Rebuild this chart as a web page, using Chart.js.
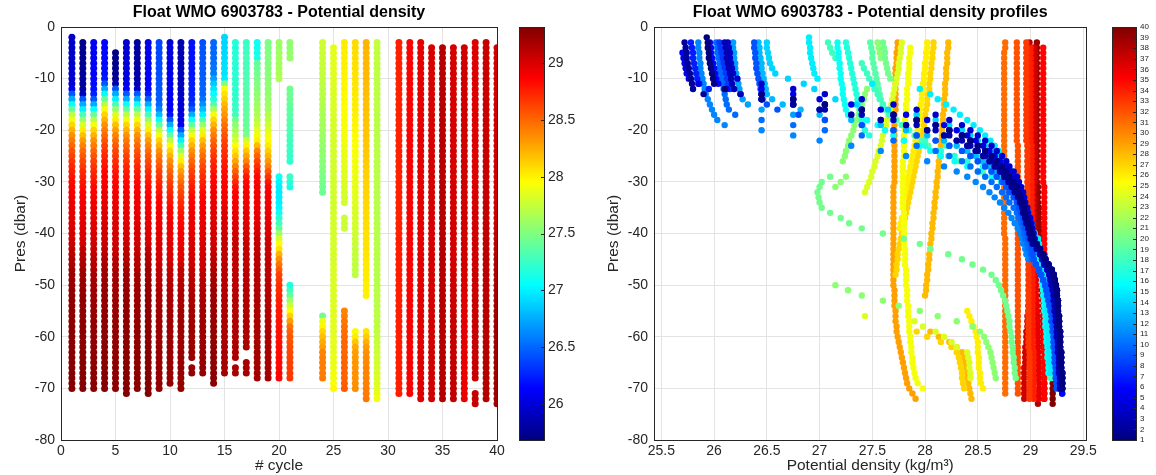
<!DOCTYPE html>
<html>
<head>
<meta charset="utf-8">
<title>Float WMO 6903783 - Potential density</title>
<script src="https://cdn.jsdelivr.net/npm/chart.js@4.4.0/dist/chart.umd.min.js"></script>
<style>
    html, body { margin: 0; padding: 0; background: #ffffff; }
    #wrap { position: relative; width: 1156px; height: 475px; overflow: hidden; background: #ffffff; }
    canvas { position: absolute; top: 0; }
</style>
</head>
<body>
<div id="wrap">
    <canvas id="density_canvas" width="510" height="475" style="left:0px"></canvas>
    <canvas id="density_cbar" width="75" height="475" style="left:505px"></canvas>
    <canvas id="profiles_canvas" width="520" height="475" style="left:580px"></canvas>
    <canvas id="profiles_cbar" width="56" height="475" style="left:1100px"></canvas>
</div>
<script>
/*--------------------------------------------------------------------------------
----- DATA (potential density per cycle, one value per dbar from the first level)
--------------------------------------------------------------------------------*/

var CYCLES = [1, 2, 3, 4, 5, 6, 7, 8, 9, 10, 11, 12, 13, 14, 15, 16, 17, 18, 19, 20, 21,
              24, 25, 26, 27, 28, 29, 31, 32, 33, 34, 35, 36, 37, 38, 39, 40];

// first measured level of each cycle (dbar)
var TOP_PRES = [2, 3, 3, 3, 5, 3, 3, 3, 3, 3, 3, 3, 3, 3, 2, 3, 3, 3, 3, 3, 3,
                3, 4, 3, 3, 3, 3, 3, 3, 3, 4, 4, 4, 4, 3, 3, 4];

var D01 = [25.93,25.94,25.94,25.95,25.95,25.96,25.97,25.98,25.99,26.0,26.1,26.45,26.75,
    27.05,27.4,27.7,27.92,28.1,28.23,28.35,28.43,28.5,28.57,28.63,28.68,28.73,28.77,28.8,28.84,28.87,28.89,28.91,28.93,28.94,28.95,28.97,28.98,29.0,29.01,29.02,
    29.06,29.09,29.12,29.14,29.17,29.2,29.22,29.23,29.24,29.25,29.25,29.26,29.26,29.26,29.27,29.27,29.27,29.28,29.28,29.28,29.28,29.29,29.29,29.29,29.29,29.3,29.3,29.3,29.3];
var D02 = [25.72,25.73,25.74,25.74,25.75,25.76,25.77,25.78,25.79,25.8,25.9,26.45,26.75,
    27.0,27.3,27.58,27.82,28.02,28.18,28.3,28.4,28.48,28.55,28.61,28.66,28.71,28.75,28.79,28.82,28.85,28.88,28.9,28.92,28.93,28.95,28.96,28.98,28.99,29.0,29.02,
    29.09,29.12,29.14,29.17,29.2,29.22,29.23,29.24,29.25,29.25,29.26,29.26,29.26,29.27,29.27,29.27,29.28,29.28,29.28,29.28,29.29,29.29,29.29,29.29,29.3,29.3,29.3,29.3];
var D03 = [26.1,26.11,26.12,26.12,26.13,26.14,26.15,26.16,26.17,26.19,26.25,26.45,26.75,
    27.05,27.4,27.7,27.92,28.1,28.23,28.35,28.43,28.5,28.57,28.63,28.68,28.73,28.77,28.8,28.84,28.87,28.89,28.91,28.93,28.94,28.95,28.97,28.98,29.0,29.01,
    29.04,29.06,29.09,29.11,29.13,29.16,29.18,29.19,29.2,29.21,29.22,29.22,29.23,29.23,29.24,29.24,29.25,29.25,29.25,29.26,29.26,29.26,29.27,29.27,29.27,29.27,29.28,29.28,29.28];
var D04 = [26.13,26.14,26.15,26.15,26.16,26.17,26.18,26.22,26.45,26.75,
    27.05,27.4,27.7,27.92,28.1,28.23,28.35,28.43,28.5,28.57,28.63,28.68,28.73,28.77,28.8,28.84,28.87,28.89,28.91,28.93,28.94,28.95,28.97,28.98,29.0,29.01,29.02,29.03,29.04,
    29.06,29.09,29.12,29.14,29.17,29.2,29.22,29.23,29.24,29.25,29.25,29.26,29.26,29.26,29.27,29.27,29.27,29.28,29.28,29.28,29.28,29.29,29.29,29.29,29.29,29.3,29.3,29.3,29.3];
var D05 = [25.7,25.71,25.72,25.73,25.74,25.76,25.85,26.45,26.75,
    27.0,27.3,27.58,27.82,28.02,28.18,28.3,28.4,28.48,28.55,28.61,28.66,28.71,28.75,28.79,28.82,28.85,28.88,28.9,28.92,28.93,28.95,28.96,28.98,28.99,29.0,29.02,29.03,
    29.04,29.06,29.09,29.11,29.13,29.16,29.18,29.19,29.2,29.21,29.22,29.22,29.23,29.23,29.24,29.24,29.25,29.25,29.25,29.26,29.26,29.26,29.27,29.27,29.27,29.27,29.28,29.28,29.28];
var D06 = [25.96,25.97,25.97,25.98,25.99,26.0,26.01,26.02,26.04,26.12,26.45,26.75,
    27.05,27.4,27.7,27.92,28.1,28.23,28.35,28.43,28.5,28.57,28.63,28.68,28.73,28.77,28.8,28.84,28.87,28.89,28.91,28.93,28.94,28.95,28.97,28.98,29.0,29.01,29.02,
    29.06,29.09,29.12,29.14,29.17,29.2,29.22,29.23,29.24,29.25,29.25,29.26,29.26,29.26,29.27,29.27,29.27,29.28,29.28,29.28,29.28,29.29,29.29,29.29,29.29,29.3,29.3,29.3,29.3,29.3];
var D07 = [25.78,25.79,25.8,25.8,25.81,25.82,25.83,25.84,25.86,25.95,26.45,26.75,
    27.05,27.4,27.7,27.92,28.1,28.23,28.35,28.43,28.5,28.57,28.63,28.68,28.73,28.77,28.8,28.84,28.87,28.89,28.91,28.93,28.94,28.95,28.97,28.98,29.0,29.01,29.02,
    29.04,29.06,29.09,29.11,29.13,29.16,29.18,29.19,29.2,29.21,29.22,29.22,29.23,29.23,29.24,29.24,29.25,29.25,29.25,29.26,29.26,29.26,29.27,29.27,29.27,29.27,29.28,29.28,29.28];
var D08 = [26.05,26.06,26.07,26.08,26.09,26.1,26.11,26.12,26.13,26.15,26.25,26.45,26.75,
    27.0,27.3,27.58,27.82,28.02,28.18,28.3,28.4,28.48,28.55,28.61,28.66,28.71,28.75,28.79,28.82,28.85,28.88,28.9,28.92,28.93,28.95,28.96,28.98,28.99,29.0,29.02,
    29.09,29.12,29.14,29.17,29.2,29.22,29.23,29.24,29.25,29.25,29.26,29.26,29.26,29.27,29.27,29.27,29.28,29.28,29.28,29.28,29.29,29.29,29.29,29.29,29.3,29.3,29.3,29.3,29.3];
var D09 = [26.38,26.38,26.39,26.39,26.4,26.4,26.41,26.42,26.43,26.44,26.45,26.46,26.5,26.6,26.8,
    27.05,27.4,27.7,27.92,28.1,28.23,28.35,28.43,28.5,28.57,28.63,28.68,28.73,28.77,28.8,28.84,28.87,28.89,28.91,28.93,28.94,28.95,28.97,28.98,29.0,29.01,29.02,29.03,
    29.05,29.08,29.1,29.12,29.14,29.15,29.16,29.17,29.18,29.19,29.2,29.2,29.21,29.21,29.22,29.22,29.22,29.23,29.23,29.23,29.24,29.24,29.24,29.25,29.25];
var D10 = [26.02,26.03,26.03,26.04,26.05,26.05,26.06,26.07,26.08,26.09,26.1,26.11,26.12,26.14,26.2,26.45,26.75,
    27.05,27.4,27.7,27.92,28.1,28.23,28.35,28.43,28.5,28.57,28.63,28.68,28.73,28.77,28.8,28.84,28.87,28.89,28.91,28.93,28.94,28.95,28.97,28.98,29.0,29.01,
    29.05,29.08,29.1,29.12,29.14,29.15,29.16,29.17,29.18,29.19,29.2,29.2,29.21,29.21,29.22,29.22,29.22,29.23,29.23,29.23,29.24,29.24,29.24,29.25];
var D11 = [25.85,25.85,25.86,25.86,25.87,25.87,25.88,25.89,25.9,25.91,25.92,25.94,25.96,25.98,26.0,26.03,26.1,26.45,26.75,
    27.0,27.3,27.58,27.82,28.02,28.18,28.3,28.4,28.48,28.55,28.61,28.66,28.71,28.75,28.79,28.82,28.85,28.88,28.9,28.92,28.93,28.95,28.96,28.98,
    29.05,29.08,29.1,29.12,29.14,29.15,29.16,29.17,29.18,29.19,29.2,29.2,29.21,29.21,29.22,29.22,29.22,29.23,29.23,29.23,29.24,29.24,29.24,29.25,29.25];
var D12 = [26.18,26.18,26.19,26.19,26.2,26.2,26.21,26.22,26.23,26.24,26.25,26.27,26.32,26.45,26.75,
    27.05,27.4,27.7,27.92,28.1,28.23,28.35,28.43,28.5,28.57,28.63,28.68,28.73,28.77,28.8,28.84,28.87,28.89,28.91,28.93,28.94,28.95,28.97,28.98,29.0,29.01,29.02,29.03,
    29.05,29.08,29.1,29.12,29.14,29.15,29.16,29.17,29.18,29.19,29.2,29.2,29.21,29.21,29.22,29.22,29.22,29.23,29.23,null,29.24,29.24];
var D13 = [26.42,26.43,26.43,26.44,26.45,26.45,26.46,26.47,26.48,26.49,26.5,26.55,26.65,26.82,
    27.0,27.3,27.58,27.82,28.02,28.18,28.3,28.4,28.48,28.55,28.61,28.66,28.71,28.75,28.79,28.82,28.85,28.88,28.9,28.92,28.93,28.95,28.96,28.98,28.99,29.0,29.02,29.03,
    29.03,29.05,29.08,29.1,29.12,29.14,29.15,29.16,29.17,29.18,29.19,29.2,29.2,29.21,29.21,29.22,29.22,29.22,29.23,29.23,29.23,29.24,29.24];
var D14 = [26.5,26.5,26.51,26.52,26.53,26.55,26.58,
    26.7,26.85,26.95,27.05,27.15,27.35,27.65,27.92,28.1,28.23,28.35,28.43,28.5,28.57,28.63,28.68,28.73,28.77,28.8,28.84,28.87,28.89,28.91,28.93,28.94,28.95,28.97,28.98,29.0,29.01,29.02,29.03,
    29.04,29.06,29.09,29.11,29.13,29.16,29.18,29.19,29.2,29.21,29.22,29.22,29.23,29.23,29.24,29.24,29.25,29.25,29.25,29.26,29.26,29.26,29.27,29.27,29.27,29.27,29.28,29.28];
var D15 = [26.9,26.9,26.91,26.91,26.92,26.93,26.94,26.95,26.98,
    27.5,27.95,28.05,28.12,28.2,28.27,28.33,28.4,28.46,28.52,28.57,28.62,28.66,28.7,28.73,28.76,28.79,28.82,28.84,28.86,28.88,28.9,
    28.92,28.94,28.96,28.98,29.0,29.01,29.02,29.04,
    29.07,29.08,29.09,29.1,29.1,29.11,29.12,29.12,29.13,29.13,29.14,29.14,29.15,29.15,29.15,29.16,29.16,29.16,29.17,29.17,29.17,29.18,29.18,29.18,29.18,29.19,29.19];
var D16 = [27.17,27.17,27.18,27.18,27.19,27.19,27.2,27.2,27.21,27.22,27.22,27.23,27.24,27.25,27.27,
    27.45,27.55,27.62,27.7,27.8,
    27.95,28.05,28.15,28.28,28.4,28.52,28.63,28.72,28.8,
    28.85,28.88,28.9,28.92,28.94,28.96,28.98,29.0,29.02,
    29.05,29.06,29.07,29.08,29.08,29.09,29.1,29.1,29.11,29.11,29.12,29.12,29.13,29.13,29.13,29.14,29.14,29.14,29.15,29.15,29.15,29.16,29.16,29.16,null,29.17,29.17];
var D17 = [27.25,27.26,27.27,27.28,27.29,27.3,27.31,27.32,27.33,27.34,27.35,27.36,27.37,27.38,27.39,27.4,27.41,27.43,27.47,
    27.8,28.0,28.15,28.28,28.4,28.55,28.68,28.78,
    28.84,28.87,28.9,28.92,28.93,28.94,28.95,28.96,28.98,29.0,29.02,
    29.06,29.07,29.08,29.09,29.09,29.1,29.11,29.11,29.12,29.12,29.13,29.13,29.14,29.14,29.14,29.15,29.15,29.15,29.16,29.16,29.16,29.17,null,null,29.17,29.18,29.18];
var D18 = [27.08,27.1,27.12,27.15,
    27.4,27.42,27.45,27.47,27.5,27.52,27.55,27.57,27.6,27.63,27.66,27.7,
    27.78,27.85,27.92,28.0,28.2,28.4,28.52,28.62,28.7,28.78,28.84,
    28.87,28.89,28.9,28.91,28.92,28.93,28.94,28.95,28.97,29.0,29.02,
    29.07,29.08,29.09,29.1,29.1,29.11,29.12,29.12,29.13,29.13,29.14,29.14,29.15,29.15,29.15,29.16,29.16,29.16,29.17,29.17,29.17,29.18,29.18,29.18,29.18,29.19,29.19,29.2];
var D19 = [27.48,27.49,27.5,27.5,27.51,27.52,27.53,27.54,27.55,27.56,27.57,27.58,27.6,27.62,
    27.68,27.73,27.78,27.83,
    27.9,27.97,28.03,28.12,28.22,28.32,28.42,28.55,28.68,28.78,
    28.84,28.88,28.9,28.92,28.93,28.94,28.95,28.97,28.99,29.01,
    29.04,29.05,29.06,29.07,29.08,29.09,29.1,29.1,29.11,29.12,29.12,29.13,29.13,29.14,29.14,29.15,29.15,29.15,29.16,29.16,29.16,29.17,29.17,29.17,29.18,29.18,29.18,29.19];
var D20 = [27.6,27.61,27.62,27.62,27.63,27.64,27.65,27.67,
    null,null,null,null,null,null,null,null,null,null,null,null,null,null,null,null,null,null,
    27.1,27.02,27.0,26.98,26.99,27.0,27.02,27.1,27.2,27.28,27.4,27.6,27.8,27.95,28.05,28.22,28.35,28.45,28.55,28.63,
    28.67,28.7,28.72,28.74,28.76,28.77,28.78,28.79,28.8,28.8,28.81,28.82,28.82,28.83,28.83,28.84,28.84,28.85,28.85,28.86];
var D21 = [27.55,27.56,27.57,27.58,
    null,null,null,null,null,
    27.45,27.43,27.42,27.4,27.38,27.37,27.35,27.33,27.32,27.3,27.28,27.27,27.25,27.24,27.22,
    null,null,
    27.25,27.2,27.15,
    null,null,null,null,null,null,null,null,null,null,null,null,null,null,null,null,null,null,
    27.15,27.27,27.4,27.6,27.75,27.95,28.12,28.3,28.45,28.52,28.56,28.58,28.6,28.62,28.63,28.64,28.65,28.66,28.67];
var D24 = [27.78,27.77,27.77,27.76,27.75,27.75,27.74,27.73,27.72,27.71,27.7,27.69,27.68,27.67,27.65,
    27.64,27.63,27.62,27.6,27.59,27.58,27.56,27.55,27.53,27.52,27.5,27.49,27.47,27.45,27.43,
    null,null,null,null,null,null,null,null,null,null,null,null,null,null,null,null,null,null,null,null,null,null,null,
    27.43,27.9,27.98,28.1,28.18,28.25,28.3,28.4,28.41,28.42,28.42,28.43,28.43];
var D25 = [27.86,27.86,27.85,27.85,27.85,27.84,27.84,27.84,27.83,27.83,
    27.83,27.82,27.82,27.82,27.81,27.81,27.81,27.8,27.8,27.8,
    27.8,27.8,27.79,27.79,27.79,27.79,27.79,27.79,27.79,27.79,
    27.79,27.79,27.8,27.8,27.8,27.8,27.8,27.8,27.8,27.81,
    27.81,27.81,27.81,27.82,27.82,27.82,27.82,27.83,27.83,27.83,
    27.84,27.84,27.84,27.85,27.85,27.85,27.86,27.86,27.87,27.87,
    27.88,27.88,27.89,27.9,27.91,27.93,27.98];
var D26 = [28.02,28.02,28.01,28.01,28.0,28.0,27.99,27.99,27.98,27.98,
    27.97,27.97,27.96,27.95,27.95,27.94,27.93,27.93,27.92,27.91,
    27.9,27.89,27.88,27.87,27.86,27.85,27.84,27.83,27.82,27.81,27.8,27.79,
    null,null,
    27.78,27.77,27.76,
    null,null,null,null,null,null,null,null,null,null,null,null,null,null,null,
    28.4,28.42,28.44,28.46,28.48,28.49,28.5,28.5,28.5,28.51,28.51,28.51,28.52,28.52,28.53,28.55];
var D27 = [28.08,28.08,28.07,28.07,28.06,28.06,28.05,28.05,28.04,28.04,
    28.03,28.02,28.02,28.01,28.0,27.99,27.99,27.98,27.97,27.96,
    27.95,27.94,27.93,27.92,27.91,27.9,27.89,27.88,27.87,27.86,
    27.85,27.84,27.83,27.82,27.81,27.8,27.79,27.78,27.77,27.76,
    27.75,27.74,27.74,27.73,27.73,27.72,
    null,null,null,null,null,null,null,null,null,null,
    27.92,28.02,28.15,28.25,28.3,28.32,28.33,28.34,28.35,28.35,28.36,28.37];
var D28 = [28.22,28.22,28.21,28.21,28.21,28.2,28.2,28.2,28.19,28.19,
    28.19,28.18,28.18,28.18,28.17,28.17,28.16,28.16,28.16,28.15,
    28.15,28.14,28.14,28.13,28.13,28.12,28.12,28.11,28.11,28.1,
    28.1,28.09,28.09,28.08,28.08,28.07,28.07,28.06,28.06,28.05,
    28.05,28.04,28.04,28.03,28.03,28.02,28.02,28.01,28.01,28.0,
    null,null,null,null,null,null,
    28.05,28.13,28.23,28.3,28.35,28.37,28.38,28.39,28.4,28.4,28.41,28.42,28.43,28.44];
var D29 = [27.74,27.74,27.73,27.73,27.73,27.72,27.72,27.72,27.72,27.72,
    27.72,27.72,27.72,27.72,27.71,27.71,27.71,27.71,27.71,27.71,
    27.71,27.71,27.71,27.71,27.71,27.71,27.71,27.71,27.7,27.7,
    27.7,27.7,27.7,27.7,27.7,27.7,27.7,27.7,27.7,27.7,
    27.7,27.7,27.7,27.7,27.7,27.7,27.7,27.7,27.71,27.71,
    27.71,27.71,27.72,27.72,27.72,27.73,27.73,27.74,27.75,27.76,
    27.77,27.78,27.79,27.8,27.81,27.82,27.83,27.85,27.88,27.91];
var D31 = [28.76,28.76,28.75,28.75,28.75,28.75,28.75,28.75,28.75,28.75,
    28.75,28.75,28.75,28.75,28.75,28.75,28.75,28.75,28.75,28.75,
    28.75,28.75,28.75,28.75,28.75,28.75,28.75,28.75,28.75,28.75,
    28.75,28.75,28.75,28.75,28.75,28.75,28.75,28.75,28.76,28.76,
    28.76,28.76,28.76,28.76,28.76,28.76,28.76,28.76,28.76,28.76,
    28.76,28.76,28.76,28.76,28.76,28.76,28.76,28.76,28.76,28.76,
    28.76,28.76,28.76,28.76,28.76,28.76,28.76,28.76,28.76];
var D32 = [28.87,28.87,28.87,28.87,28.87,28.87,28.87,28.87,28.87,28.87,
    28.87,28.87,28.87,28.87,28.87,28.87,28.87,28.87,28.87,28.87,
    28.88,28.88,28.88,28.88,28.88,28.88,28.88,28.88,28.88,28.88,
    28.88,28.88,28.88,28.88,28.88,28.88,28.88,28.88,28.88,28.88,
    28.88,28.88,28.88,28.88,28.88,28.88,28.88,28.88,28.88,28.88,
    28.88,28.88,28.88,28.88,28.88,28.88,28.88,28.88,28.88,28.88,
    28.88,28.88,28.88,28.88,28.88,28.88,28.88,28.88,28.88];
var D33 = [28.96,28.96,28.96,28.96,28.96,28.96,28.96,28.96,28.96,28.96,
    28.96,28.96,28.96,28.96,28.96,28.96,28.96,28.96,28.96,28.96,
    28.97,28.97,28.97,28.97,28.97,28.97,28.97,28.97,28.97,28.97,
    28.97,28.97,28.97,28.97,28.97,28.97,28.97,28.97,28.97,28.97,
    28.98,28.98,28.98,28.98,28.98,28.98,28.98,28.98,28.98,28.98,
    28.98,28.98,28.98,28.98,28.98,28.98,28.98,28.98,28.98,28.98,
    28.99,28.99,28.99,28.99,28.99,28.99,28.99,28.99,28.99,28.99];
var D34 = [29.0,29.0,29.0,29.0,29.0,29.0,29.0,29.0,29.0,29.0,
    29.0,29.0,29.0,29.0,29.0,29.0,29.0,29.0,29.0,
    29.01,29.01,29.01,29.01,29.01,29.01,29.01,29.01,29.01,29.01,
    29.01,29.01,29.01,29.01,29.01,29.01,29.01,29.01,29.01,29.01,
    29.02,29.02,29.02,29.02,29.02,29.02,29.02,29.02,29.02,29.02,
    29.02,29.02,29.02,29.02,29.02,29.02,29.02,29.02,29.02,29.02,
    29.03,29.03,29.03,29.03,29.03,29.03,29.03,29.03,29.03,29.03];
var D35 = [29.12,29.12,29.12,29.12,29.12,29.12,29.12,29.12,29.12,29.12,
    29.12,29.12,29.12,29.12,29.12,29.12,29.12,29.12,29.12,29.12,
    29.12,29.12,29.12,29.12,29.12,29.12,29.12,
    29.13,29.13,29.13,29.13,29.13,29.13,29.13,29.13,29.13,29.13,
    29.13,29.13,29.13,29.13,29.13,29.13,29.13,29.13,29.13,29.13,
    29.13,29.13,29.13,29.13,29.13,29.13,29.13,29.13,29.13,29.13,
    29.13,29.13,29.13,29.13,29.13,29.13,29.13,29.13,29.13,29.13,29.13,29.13];
var D36 = [29.01,29.01,29.01,29.01,29.01,29.01,29.01,29.01,29.01,29.01,
    29.01,29.01,29.01,29.01,29.01,29.01,29.01,29.01,29.01,29.01,
    29.01,29.01,29.01,29.01,29.01,29.01,29.01,
    29.02,29.02,29.02,29.02,29.02,29.02,29.02,29.02,29.02,29.02,29.02,29.02,29.02,29.02,29.02,
    29.03,29.03,29.04,29.04,29.05,29.05,29.05,29.06,29.06,29.06,
    29.07,29.07,29.07,29.07,29.07,29.07,29.07,29.07,29.07,
    29.08,29.08,29.08,29.08,29.08,29.08,29.08,29.08];
var D37 = [29.04,29.04,29.04,29.04,29.04,29.04,29.04,29.04,29.04,29.04,
    29.04,29.04,29.04,29.04,29.04,29.04,29.04,29.04,29.04,29.04,
    29.04,29.04,29.04,29.04,29.04,29.04,29.04,
    29.03,29.03,29.03,29.03,29.03,29.03,29.03,29.03,29.03,29.03,29.03,29.03,29.03,29.03,29.03,
    29.02,29.02,29.01,29.01,29.0,29.0,28.99,28.99,28.98,28.98,28.97,28.97,28.97,28.96,
    28.96,28.96,28.95,28.95,28.95,28.95,28.94,28.94,28.94,28.94,28.94,28.94,28.94];
var D38 = [28.99,28.99,28.99,28.99,28.99,28.99,28.99,28.99,28.99,28.99,
    28.99,28.99,28.99,28.99,28.99,28.99,28.99,28.99,28.99,28.99,
    28.99,28.99,28.99,28.99,28.99,28.99,28.99,28.99,
    29.0,29.0,29.01,29.01,29.01,29.02,29.02,29.02,29.03,29.03,
    29.03,29.03,29.04,29.04,29.04,29.04,29.05,29.05,29.05,29.05,
    29.05,29.05,29.05,29.06,29.06,29.06,29.06,29.06,29.06,29.07,
    29.07,29.07,29.07,29.07,29.07,29.07,29.07,29.07,
    null,null,
    29.07,29.07,29.07];
var D39 = [29.06,29.06,29.06,29.06,29.06,29.06,29.06,29.06,29.06,29.06,
    29.06,29.06,29.06,29.06,29.06,29.06,29.06,29.06,29.06,29.06,
    29.06,29.06,29.06,29.06,29.06,29.06,29.06,29.06,
    29.07,29.07,29.07,29.07,29.08,29.08,29.08,29.08,29.09,29.09,
    29.09,29.09,29.1,29.1,29.1,29.1,29.1,29.11,29.11,29.11,
    29.11,29.11,29.12,29.12,29.12,29.12,29.12,29.12,29.12,29.12,
    29.12,29.12,29.13,29.13,29.13,29.13,29.13,29.13,29.13,29.13,29.13,29.13];
var D40 = [29.03,29.03,29.03,29.03,29.03,29.03,29.03,29.03,29.03,29.03,
    29.03,29.03,29.03,29.03,29.03,29.03,29.03,
    29.04,29.04,29.04,29.04,29.04,29.04,29.04,29.04,29.04,29.04,29.04,29.04,29.04,29.04,29.04,
    29.05,29.06,29.07,29.08,29.09,29.1,29.11,29.12,29.13,29.14,29.15,29.16,29.17,29.17,29.18,
    29.18,29.18,29.19,29.19,29.19,29.19,29.2,29.2,29.2,29.2,29.2,29.2,29.2,
    29.21,29.21,29.21,29.21,29.21,29.21,29.21,29.21,29.21,29.21];

var DENSITY = [D01, D02, D03, D04, D05, D06, D07, D08, D09, D10, D11, D12, D13, D14,
               D15, D16, D17, D18, D19, D20, D21, D24, D25, D26, D27, D28, D29,
               D31, D32, D33, D34, D35, D36, D37, D38, D39, D40];

var DENS_LIMITS = [25.68, 29.32];    // colour limits of the first panel
var CYCLE_LIMITS = [1, 40];          // colour limits of the second panel

/*--------------------------------------------------------------------------------
----- HELPERS
--------------------------------------------------------------------------------*/

Chart.defaults.font.family = '"Liberation Sans", Arial, Helvetica, sans-serif';
Chart.defaults.color = '#262626';

// MATLAB "jet" colormap, t in [0, 1]
function jet(t) {
    t = Math.min(1, Math.max(0, t));
    var c = function (v) { return Math.round(255 * Math.min(1, Math.max(0, v))); };
    return 'rgb(' + c(Math.min(4 * t - 1.5, -4 * t + 4.5)) + ',' +
                    c(Math.min(4 * t - 0.5, -4 * t + 3.5)) + ',' +
                    c(Math.min(4 * t + 0.5, -4 * t + 2.5)) + ')';
}

var JET_STOPS = [[0, 'rgb(0,0,128)'], [0.125, 'rgb(0,0,255)'], [0.375, 'rgb(0,255,255)'],
                 [0.625, 'rgb(255,255,0)'], [0.875, 'rgb(255,0,0)'], [1, 'rgb(128,0,0)']];

function tick_label(value) {
    return String(Math.round(value * 100) / 100);
}

// full box round the plotting area, like MATLAB "box on"
var box_plugin = {
    id: 'box_plugin',
    beforeDatasetsDraw: function (chart) {
        var a = chart.chartArea, ctx = chart.ctx;
        ctx.save();
        ctx.strokeStyle = '#262626';
        ctx.lineWidth = 1;
        ctx.strokeRect(Math.round(a.left) + 0.5, Math.round(a.top) + 0.5,
                       Math.round(a.right - a.left), Math.round(a.bottom - a.top));
        ctx.restore();
    }
};

// colour ramp painted inside the colorbar chart area
var colorbar_plugin = {
    id: 'colorbar_plugin',
    beforeDatasetsDraw: function (chart) {
        var a = chart.chartArea, ctx = chart.ctx, scale = chart.scales.y;
        ctx.save();
        var gradient = ctx.createLinearGradient(0, a.bottom, 0, a.top);
        JET_STOPS.forEach(function (s) { gradient.addColorStop(s[0], s[1]); });
        ctx.fillStyle = gradient;
        ctx.fillRect(a.left, a.top, a.right - a.left, a.bottom - a.top);
        ctx.strokeStyle = '#262626';
        ctx.lineWidth = 1;
        ctx.beginPath();
        scale.ticks.forEach(function (t) {
            var py = Math.round(scale.getPixelForValue(t.value)) + 0.5;
            ctx.moveTo(a.right - 3, py);
            ctx.lineTo(a.right, py);
        });
        ctx.stroke();
        ctx.strokeRect(Math.round(a.left) + 0.5, Math.round(a.top) + 0.5,
                       Math.round(a.right - a.left), Math.round(a.bottom - a.top));
        ctx.restore();
    }
};

/*--------------------------------------------------------------------------------
----- DATASETS
--------------------------------------------------------------------------------*/

var section_sets = [];
var profile_sets = [];

CYCLES.forEach(function (cycle, k) {
    var section_points = [], section_colors = [], profile_points = [];
    DENSITY[k].forEach(function (dens, i) {
        if (dens === null) return;
        var pres = -(TOP_PRES[k] + i);
        section_points.push({x: cycle, y: pres});
        section_colors.push(jet((dens - DENS_LIMITS[0]) / (DENS_LIMITS[1] - DENS_LIMITS[0])));
        profile_points.push({x: dens, y: pres});
    });
    section_sets.push({
        label: 'Cycle ' + cycle,
        data: section_points,
        backgroundColor: section_colors,
        pointRadius: 3.5,
        pointBorderWidth: 0,
        pointHoverRadius: 3.5
    });
    profile_sets.push({
        label: 'Cycle ' + cycle,
        data: profile_points,
        backgroundColor: jet((cycle - CYCLE_LIMITS[0]) / (CYCLE_LIMITS[1] - CYCLE_LIMITS[0])),
        pointRadius: 3.2,
        pointBorderWidth: 0,
        pointHoverRadius: 3.2
    });
});

/*--------------------------------------------------------------------------------
----- CHARTS
--------------------------------------------------------------------------------*/

function main_options(title, x_title, x_min, x_max, x_step, pad_left, pad_right) {
    return {
        responsive: false,
        animation: false,
        devicePixelRatio: 1,
        layout: {padding: {left: pad_left, right: pad_right, top: 0, bottom: 0}},
        plugins: {
            legend: {display: false},
            tooltip: {enabled: false},
            title: {
                display: true,
                text: title,
                fullSize: false,
                color: '#000000',
                font: {size: 16, weight: 'bold'},
                padding: {top: 3, bottom: 4.8}
            }
        },
        scales: {
            x: {
                type: 'linear',
                min: x_min,
                max: x_max,
                afterFit: function (scale) { scale.height = 35; },
                ticks: {stepSize: x_step, includeBounds: false, padding: 3, font: {size: 14}, callback: tick_label},
                grid: {color: '#e3e3e3', drawTicks: false},
                border: {display: false},
                title: {display: true, text: x_title, color: '#262626', font: {size: 15.5, lineHeight: 1},
                        padding: {top: 0, bottom: 2}}
            },
            y: {
                type: 'linear',
                min: -80,
                max: 0,
                afterFit: function (scale) { scale.width = 53; },
                ticks: {stepSize: 10, padding: 6, font: {size: 14}, callback: tick_label},
                grid: {color: '#e3e3e3', drawTicks: false},
                border: {display: false},
                title: {display: true, text: 'Pres (dbar)', color: '#262626', font: {size: 15.5}, padding: {top: 3, bottom: 0}}
            }
        }
    };
}

function colorbar_options(min, max, step, font_size, pad_left, axis_width) {
    return {
        responsive: false,
        animation: false,
        devicePixelRatio: 1,
        layout: {padding: {left: pad_left, right: 0, top: 27, bottom: 35}},
        plugins: {legend: {display: false}, tooltip: {enabled: false}},
        scales: {
            x: {type: 'linear', display: false, min: 0, max: 1},
            y: {
                type: 'linear',
                position: 'right',
                min: min,
                max: max,
                afterFit: function (scale) { scale.width = axis_width; },
                ticks: {stepSize: step, includeBounds: false, autoSkip: false, padding: 4,
                        font: {size: font_size}, callback: tick_label},
                grid: {display: false, drawTicks: false},
                border: {display: false}
            }
        }
    };
}

new Chart(document.getElementById('density_canvas').getContext('2d'), {
    type: 'scatter',
    data: {datasets: section_sets},
    options: main_options('Float WMO 6903783 - Potential density', '# cycle', 0, 40, 5, 8, 13),
    plugins: [box_plugin]
});

new Chart(document.getElementById('density_cbar').getContext('2d'), {
    type: 'scatter',
    data: {datasets: []},
    options: colorbar_options(DENS_LIMITS[0], DENS_LIMITS[1], 0.5, 14, 14, 36),
    plugins: [colorbar_plugin]
});

new Chart(document.getElementById('profiles_canvas').getContext('2d'), {
    type: 'scatter',
    data: {datasets: profile_sets},
    options: main_options('Float WMO 6903783 - Potential density profiles', 'Potential density (kg/m\u00B3)',
                          25.43, 29.53, 0.5, 21, 11),
    plugins: [box_plugin]
});

new Chart(document.getElementById('profiles_cbar').getContext('2d'), {
    type: 'scatter',
    data: {datasets: []},
    options: colorbar_options(CYCLE_LIMITS[0], CYCLE_LIMITS[1], 1, 8, 12, 20),
    plugins: [colorbar_plugin]
});
</script>
</body>
</html>
